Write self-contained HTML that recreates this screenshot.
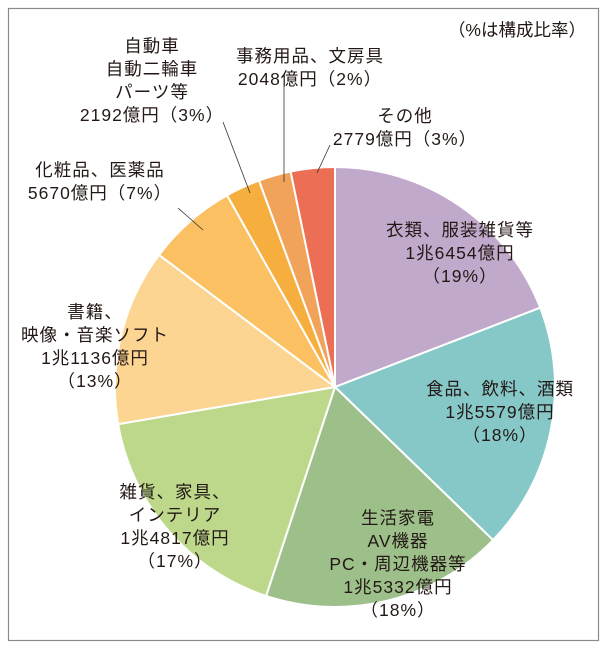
<!DOCTYPE html>
<html><head><meta charset="utf-8"><style>
body{margin:0;background:#fff;}
svg text{font-family:"Liberation Sans","Noto Sans CJK JP",sans-serif;font-size:17.5px;fill:#231815;letter-spacing:1px;}
</style></head><body>
<svg width="607" height="650">
<rect x="8.5" y="8.5" width="590" height="632" fill="none" stroke="#8a8a8a" stroke-width="1.2"/>
<text x="586" y="36" text-anchor="end" font-size="16" style="letter-spacing:0">（%は構成比率）</text>
<g id="slices"></g>
<g id="labels"></g>
</svg>
<script>
const categories=["衣類、服装雑貨等","食品、飲料、酒類","生活家電 AV機器 PC・周辺機器等","雑貨、家具、インテリア","書籍、映像・音楽ソフト","化粧品、医薬品","自動車 自動二輪車 パーツ等","事務用品、文房具","その他"];
const values=[16454,15579,15332,14817,11136,5670,2192,2048,2779];
const colors=["#c1a9cb","#86c8c8","#9dc08b","#bdd88a","#fcd592","#fbc062","#f6ae3f","#f2a35a","#ec6e55"];
const labelLines=[
 ["衣類、服装雑貨等","1兆6454億円","（19%）"],
 ["食品、飲料、酒類","1兆5579億円","（18%）"],
 ["生活家電","AV機器","PC・周辺機器等","1兆5332億円","（18%）"],
 ["雑貨、家具、","インテリア","1兆4817億円","（17%）"],
 ["書籍、","映像・音楽ソフト","1兆1136億円","（13%）"],
 ["化粧品、医薬品","5670億円（7%）"],
 ["自動車","自動二輪車","パーツ等","2192億円（3%）"],
 ["事務用品、文房具","2048億円（2%）"],
 ["その他","2779億円（3%）"]];
const labelPos=[[460,236],[500,395],[398,524],[175,498],[95,318],[100,176],[152,52],[310,62],[405,122]];
const leaders=[null,null,null,null,null,[[178,208],[203,230]],[[223,122],[250,193]],[[284,85],[284,182]],[[330,145],[317,173]]];
const cx=335,cy=387,r=220;
const NS="http://www.w3.org/2000/svg";
const total=values.reduce((a,b)=>a+b,0);
function pt(a,rr){return [cx+rr*Math.sin(a),cy-rr*Math.cos(a)];}
let a0=0;const gs=document.getElementById('slices'),gl=document.getElementById('labels');
values.forEach((v,i)=>{
 const a1=a0+v/total*2*Math.PI;
 const p0=pt(a0,r),p1=pt(a1,r);
 const path=document.createElementNS(NS,'path');
 path.setAttribute('d',`M${cx},${cy}L${p0[0]},${p0[1]}A${r},${r} 0 ${a1-a0>Math.PI?1:0} 1 ${p1[0]},${p1[1]}Z`);
 path.setAttribute('fill',colors[i]);path.setAttribute('stroke','#fff');path.setAttribute('stroke-width','2');
 
 
 gs.appendChild(path);a0=a1;
});
labelLines.forEach((lines,i)=>{
 const t=document.createElementNS(NS,'text');
 t.setAttribute('x',labelPos[i][0]);t.setAttribute('y',labelPos[i][1]);t.setAttribute('text-anchor','middle');
 
 
 lines.forEach((s,j)=>{const ts=document.createElementNS(NS,'tspan');ts.setAttribute('x',labelPos[i][0]);ts.setAttribute('dy',j?23:0);ts.textContent=s;t.appendChild(ts);});
 gl.appendChild(t);
 if(leaders[i]){const l=document.createElementNS(NS,'line');const q=leaders[i];
  l.setAttribute('x1',q[0][0]);l.setAttribute('y1',q[0][1]);l.setAttribute('x2',q[1][0]);l.setAttribute('y2',q[1][1]);
  l.setAttribute('stroke','#333');l.setAttribute('stroke-width','0.8');
  
  
  gl.appendChild(l);}
});
</script>
</body></html>
